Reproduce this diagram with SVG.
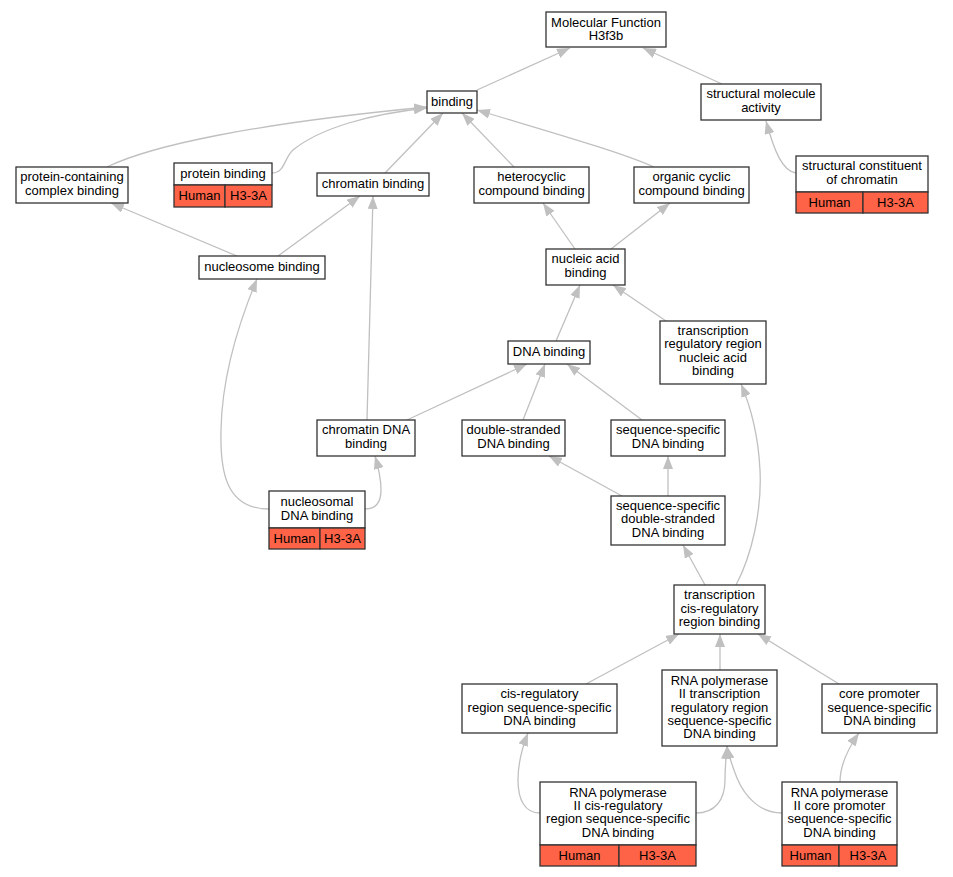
<svg xmlns="http://www.w3.org/2000/svg" width="953" height="877" viewBox="0 0 953 877">
<style>
.n rect{fill:#fff;stroke:#333;stroke-width:1.3}
.n rect.g{fill:#ff6347}
text{font-family:"Liberation Sans",Arial,sans-serif;font-size:13px;text-anchor:middle;fill:#000}
.e path{fill:none;stroke:#c0c0c0;stroke-width:1.3;marker-end:url(#a)}
</style>
<defs>
<marker id="a" markerUnits="userSpaceOnUse" markerWidth="13" markerHeight="10" refX="13" refY="5" orient="auto" viewBox="0 0 13 10">
<path d="M0,0 L13,5 L0,10 z" fill="#c0c0c0"/>
</marker>
</defs>
<rect width="953" height="877" fill="#fff"/>
<g class="e" id="edges">
<path d="M477,90 L570,48"/>
<path d="M722,84 L643,48"/>
<path d="M796,173 C782,171 774,150 766,121"/>
<path d="M107,167 C150,146 250,124 427,107"/>
<path d="M272,173 C285,173 284,158 293,150 C320,128 370,114 427,108"/>
<path d="M385,173 L443,113"/>
<path d="M514,167 L462,113"/>
<path d="M654,167 C620,152 560,135 477,110"/>
<path d="M575,249 L543,203"/>
<path d="M611,249 L670,203"/>
<path d="M237,256 L111,203"/>
<path d="M278,256 L360,196"/>
<path d="M367,420 L373,196"/>
<path d="M269,509 C225,509 220,470 221,430 C222,370 242,315 257,279"/>
<path d="M365,509 C378,509 381,500 381,490 C381,478 378,466 375,456"/>
<path d="M556,341 L580,285"/>
<path d="M666,321 L613,285"/>
<path d="M407,420 L527,364"/>
<path d="M523,420 L545,364"/>
<path d="M642,420 L567,364"/>
<path d="M622,496 L549,456"/>
<path d="M668,496 L668,456"/>
<path d="M705,585 L683,545"/>
<path d="M736,585 C752,555 762,510 760,470 C758,430 750,405 741,384"/>
<path d="M586,684 L679,634"/>
<path d="M720,670 L720,634"/>
<path d="M839,684 L758,634"/>
<path d="M540,813 C525,813 518,800 518,780 C518,762 522,748 528,733"/>
<path d="M696,813 C715,813 725,800 725,780 C725,768 726,758 727,746"/>
<path d="M782,813 C760,813 745,797 737,778 C733,768 729,756 727,746"/>
<path d="M840,782 C840,765 847,750 859,733"/>
</g>
<g class="n" id="mf"><rect x="546" y="12" width="120" height="35"/><text x="606" y="26.5">Molecular Function</text><text x="606" y="39.8">H3f3b</text></g>
<g class="n" id="binding"><rect x="427" y="91" width="50" height="22"/><text x="452" y="105.5">binding</text></g>
<g class="n" id="sma"><rect x="701" y="84" width="120" height="36"/><text x="761" y="98.3">structural molecule</text><text x="761" y="111.6">activity</text></g>
<g class="n" id="pccb"><rect x="16" y="167" width="112" height="36"/><text x="72" y="181.3">protein-containing</text><text x="72" y="194.6">complex binding</text></g>
<g class="n" id="pb"><rect x="174" y="163" width="98" height="22"/><text x="223" y="177.5">protein binding</text><rect class="g" x="174" y="185" width="51" height="22"/><text x="199.5" y="200">Human</text><rect class="g" x="225" y="185" width="47" height="22"/><text x="248.5" y="200">H3-3A</text></g>
<g class="n" id="cb"><rect x="317" y="173" width="112" height="23"/><text x="373" y="188">chromatin binding</text></g>
<g class="n" id="hcb"><rect x="474" y="167" width="115" height="36"/><text x="531.5" y="181.3">heterocyclic</text><text x="531.5" y="194.6">compound binding</text></g>
<g class="n" id="occb"><rect x="634" y="167" width="115" height="36"/><text x="691.5" y="181.3">organic cyclic</text><text x="691.5" y="194.6">compound binding</text></g>
<g class="n" id="scc"><rect x="796" y="156" width="132" height="36"/><text x="862" y="170.3">structural constituent</text><text x="862" y="183.6">of chromatin</text><rect class="g" x="796" y="192" width="67" height="21"/><text x="829.5" y="206.5">Human</text><rect class="g" x="863" y="192" width="65" height="21"/><text x="895.5" y="206.5">H3-3A</text></g>
<g class="n" id="nb"><rect x="199" y="256" width="126" height="23"/><text x="262" y="271">nucleosome binding</text></g>
<g class="n" id="nab"><rect x="546" y="249" width="79" height="36"/><text x="585.5" y="263.3">nucleic acid</text><text x="585.5" y="276.6">binding</text></g>
<g class="n" id="trrnab"><rect x="660" y="321" width="106" height="63"/><text x="713" y="335">transcription</text><text x="713" y="348.3">regulatory region</text><text x="713" y="361.6">nucleic acid</text><text x="713" y="374.9">binding</text></g>
<g class="n" id="dnab"><rect x="508" y="341" width="82" height="23"/><text x="549" y="356">DNA binding</text></g>
<g class="n" id="cdnab"><rect x="317" y="420" width="98" height="36"/><text x="366" y="434.3">chromatin DNA</text><text x="366" y="447.6">binding</text></g>
<g class="n" id="dsdnab"><rect x="462" y="420" width="103" height="36"/><text x="513.5" y="434.3">double-stranded</text><text x="513.5" y="447.6">DNA binding</text></g>
<g class="n" id="ssdnab"><rect x="611" y="420" width="114" height="36"/><text x="668" y="434.3">sequence-specific</text><text x="668" y="447.6">DNA binding</text></g>
<g class="n" id="ndnab"><rect x="269" y="491" width="96" height="37"/><text x="317" y="506.3">nucleosomal</text><text x="317" y="519.6">DNA binding</text><rect class="g" x="269" y="528" width="51" height="21"/><text x="294.5" y="542.5">Human</text><rect class="g" x="320" y="528" width="45" height="21"/><text x="342.5" y="542.5">H3-3A</text></g>
<g class="n" id="ssdsdnab"><rect x="611" y="496" width="114" height="49"/><text x="668" y="510">sequence-specific</text><text x="668" y="523.3">double-stranded</text><text x="668" y="536.6">DNA binding</text></g>
<g class="n" id="tcrrb"><rect x="674" y="585" width="91" height="49"/><text x="719.5" y="599.2">transcription</text><text x="719.5" y="612.5">cis-regulatory</text><text x="719.5" y="625.8">region binding</text></g>
<g class="n" id="crrssdnab"><rect x="462" y="684" width="155" height="49"/><text x="539.5" y="698.2">cis-regulatory</text><text x="539.5" y="711.5">region sequence-specific</text><text x="539.5" y="724.8">DNA binding</text></g>
<g class="n" id="rp2trr"><rect x="662" y="670" width="115" height="76"/><text x="719.5" y="684.9">RNA polymerase</text><text x="719.5" y="698.2">II transcription</text><text x="719.5" y="711.5">regulatory region</text><text x="719.5" y="724.8">sequence-specific</text><text x="719.5" y="738.1">DNA binding</text></g>
<g class="n" id="cpss"><rect x="822" y="684" width="115" height="49"/><text x="879.5" y="698.2">core promoter</text><text x="879.5" y="711.5">sequence-specific</text><text x="879.5" y="724.8">DNA binding</text></g>
<g class="n" id="rp2cr"><rect x="540" y="782" width="156" height="63"/><text x="618" y="796.6">RNA polymerase</text><text x="618" y="809.9">II cis-regulatory</text><text x="618" y="823.2">region sequence-specific</text><text x="618" y="836.5">DNA binding</text><rect class="g" x="540" y="845" width="79" height="21"/><text x="579.5" y="859.5">Human</text><rect class="g" x="619" y="845" width="77" height="21"/><text x="657.5" y="859.5">H3-3A</text></g>
<g class="n" id="rp2cp"><rect x="782" y="782" width="115" height="63"/><text x="839.5" y="796.6">RNA polymerase</text><text x="839.5" y="809.9">II core promoter</text><text x="839.5" y="823.2">sequence-specific</text><text x="839.5" y="836.5">DNA binding</text><rect class="g" x="782" y="845" width="57" height="21"/><text x="810.5" y="859.5">Human</text><rect class="g" x="839" y="845" width="58" height="21"/><text x="868" y="859.5">H3-3A</text></g>
</svg>
